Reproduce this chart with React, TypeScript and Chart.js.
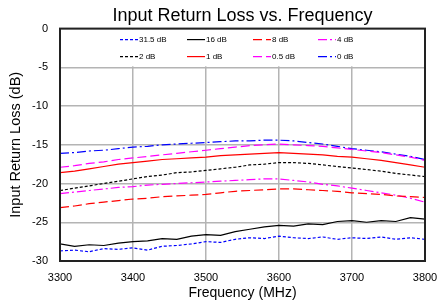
import { useEffect, useRef } from "react";
import { Chart, registerables } from "chart.js";

Chart.register(...registerables);

const frequencies = [
  3300, 3320, 3340, 3360, 3380, 3400, 3420, 3440, 3460, 3480, 3500, 3520, 3540,
  3560, 3580, 3600, 3620, 3640, 3660, 3680, 3700, 3720, 3740, 3760, 3780, 3800,
];

const seriesLabels = ["31.5 dB", "16 dB", "8 dB", "4 dB", "2 dB", "1 dB", "0.5 dB", "0 dB"];

const att31_5 = [-28.7, -28.6, -28.8, -28.4, -28.5, -28.3, -28.6, -28.1, -28.0, -27.8, -27.5, -27.6, -27.2,
  -27.0, -27.1, -26.8, -27.0, -27.1, -26.9, -27.2, -27.0, -27.1, -26.9, -27.2, -27.0, -27.2];
const att16 = [-27.8, -28.1, -27.9, -28.0, -27.7, -27.5, -27.4, -27.1, -27.2, -26.8, -26.6, -26.7, -26.2,
  -25.9, -25.6, -25.4, -25.5, -25.2, -25.3, -24.9, -24.8, -25.0, -24.8, -24.9, -24.4, -24.6];
const att8 = [-23.1, -22.9, -22.6, -22.4, -22.2, -22.0, -21.9, -21.7, -21.6, -21.5, -21.4, -21.2, -21.0,
  -20.9, -20.8, -20.7, -20.7, -20.8, -20.9, -21.0, -21.2, -21.3, -21.4, -21.6, -21.7, -21.8];
const att4 = [-21.3, -21.1, -20.9, -20.7, -20.5, -20.4, -20.2, -20.1, -20.0, -19.9, -19.8, -19.7, -19.6,
  -19.5, -19.4, -19.4, -19.6, -19.8, -20.1, -20.3, -20.6, -20.9, -21.2, -21.5, -21.9, -22.4];
const att2 = [-20.9, -20.6, -20.3, -20.0, -19.7, -19.4, -19.1, -18.9, -18.6, -18.5, -18.3, -18.1, -17.9,
  -17.6, -17.5, -17.3, -17.3, -17.4, -17.6, -17.8, -18.0, -18.2, -18.4, -18.7, -18.9, -19.1];
const att1 = [-18.6, -18.4, -18.1, -17.8, -17.5, -17.3, -17.1, -16.9, -16.8, -16.7, -16.6, -16.4, -16.3,
  -16.2, -16.1, -16.0, -16.1, -16.2, -16.3, -16.5, -16.6, -16.8, -17.0, -17.3, -17.6, -17.9];
const att0_5 = [-17.9, -17.7, -17.4, -17.2, -16.9, -16.7, -16.5, -16.3, -16.1, -15.9, -15.7, -15.5, -15.3,
  -15.1, -15.0, -14.9, -15.0, -15.1, -15.2, -15.4, -15.6, -15.8, -16.0, -16.3, -16.6, -17.0];
const att0 = [-16.1, -16.0, -15.8, -15.7, -15.5, -15.3, -15.2, -15.0, -14.9, -14.8, -14.7, -14.6, -14.5,
  -14.5, -14.4, -14.4, -14.5, -14.7, -14.9, -15.2, -15.5, -15.7, -15.9, -16.2, -16.5, -16.9];

const xTicks = [3300, 3400, 3500, 3600, 3700, 3800];
const yTicks = [-30, -25, -20, -15, -10, -5, 0];

const FONT = '"Liberation Sans", Arial, sans-serif';

const legendBoxPlugin = {
  id: "legendBox",
  beforeDatasetsDraw(chart: any) {
    const { ctx, chartArea, scales } = chart;
    const yb = scales.y.getPixelForValue(-5);
    ctx.save();
    ctx.fillStyle = "#ffffff";
    ctx.fillRect(chartArea.left + 1, chartArea.top + 1, chartArea.right - chartArea.left - 2, yb - chartArea.top - 2);
    ctx.restore();
  },
  afterDatasetsDraw(chart: any) {
    const { ctx, chartArea } = chart;
    ctx.save();
    ctx.strokeStyle = "#222222";
    ctx.lineWidth = 2;
    ctx.setLineDash([]);
    ctx.strokeRect(chartArea.left, chartArea.top, chartArea.right - chartArea.left, chartArea.bottom - chartArea.top);
    const colX = [60, 127, 193, 258];
    const rowY = [11, 28];
    chart.data.datasets.forEach((ds: any, i: number) => {
      const x = chartArea.left + colX[i % 4];
      const y = chartArea.top + rowY[Math.floor(i / 4)];
      ctx.beginPath();
      ctx.strokeStyle = ds.borderColor;
      ctx.lineWidth = 1.2;
      ctx.setLineDash(ds.borderDash || []);
      ctx.moveTo(x, y);
      ctx.lineTo(x + 18, y);
      ctx.stroke();
      ctx.setLineDash([]);
      ctx.fillStyle = "#000";
      ctx.font = `8px ${FONT}`;
      ctx.textBaseline = "middle";
      ctx.textAlign = "left";
      ctx.fillText(ds.label, x + 19, y);
    });
    ctx.restore();
  },
};

export default function App() {
  const ref = useRef<HTMLCanvasElement | null>(null);
  useEffect(() => {
    document.body.style.margin = "0";
    const series = [att31_5, att16, att8, att4, att2, att1, att0_5, att0];
    const colors = ["#0000ff", "#000000", "#ff0000", "#ff00ff", "#000000", "#ff0000", "#ff00ff", "#0000ff"];
    const dashes = [[3, 2], [], [9, 4], [9, 3, 2, 3], [3, 2], [], [9, 4], [9, 3, 2, 3]];
    const chart = new Chart(ref.current!, {
      type: "line",
      data: {
        datasets: series.map((vals, i) => ({
          label: seriesLabels[i],
          data: frequencies.map((f, j) => ({ x: f, y: vals[j] })),
          borderColor: colors[i],
          borderDash: dashes[i],
          borderWidth: 1.2,
          pointRadius: 0,
          fill: false,
          tension: 0,
        })),
      },
      options: {
        animation: false,
        responsive: false,
        devicePixelRatio: 1,
        layout: { padding: { left: 0, right: 14, top: 0, bottom: 0 } },
        plugins: {
          legend: { display: false },
          tooltip: { enabled: false },
          title: {
            display: true,
            fullSize: false,
            text: "Input Return Loss vs. Frequency",
            color: "#000",
            font: { family: FONT, size: 18, weight: "normal" },
            padding: { top: 5, bottom: 2 },
          },
        },
        scales: {
          x: {
            type: "linear",
            min: 3300,
            max: 3800,
            afterFit: (s: any) => {
              s.height = 45;
              s.paddingLeft = 0;
              s.paddingRight = 0;
            },
            afterBuildTicks: (s: any) => { s.ticks = xTicks.map((v) => ({ value: v })); },
            ticks: {
              color: "#000",
              font: { family: FONT, size: 11 },
              padding: 10,
              maxRotation: 0,
              callback: (v: any) => String(v),
            },
            grid: { color: "#b4b4b4", lineWidth: 1.5, drawTicks: false },
            border: { display: false },
            title: {
              display: true,
              text: "Frequency (MHz)",
              color: "#000",
              font: { family: FONT, size: 14 },
              padding: { top: 0, bottom: 4 },
            },
          },
          y: {
            type: "linear",
            min: -30,
            max: 0,
            afterFit: (s: any) => {
              s.width = 60;
              s.paddingTop = 0;
              s.paddingBottom = 0;
            },
            afterBuildTicks: (s: any) => { s.ticks = yTicks.map((v) => ({ value: v })); },
            ticks: {
              color: "#000",
              font: { family: FONT, size: 11 },
              padding: 12,
              callback: (v: any) => String(v),
            },
            grid: { color: "#b4b4b4", lineWidth: 1.5, drawTicks: false },
            border: { display: false },
            title: {
              display: true,
              text: "Input Return Loss (dB)",
              color: "#000",
              font: { family: FONT, size: 14.5 },
              padding: { top: 7, bottom: 0 },
            },
          },
        },
      },
      plugins: [legendBoxPlugin],
    } as any);
    return () => chart.destroy();
  }, []);
  return (
    <div style={{ width: 439, height: 306 }}>
      <canvas ref={ref} width={439} height={306} />
    </div>
  );
}
